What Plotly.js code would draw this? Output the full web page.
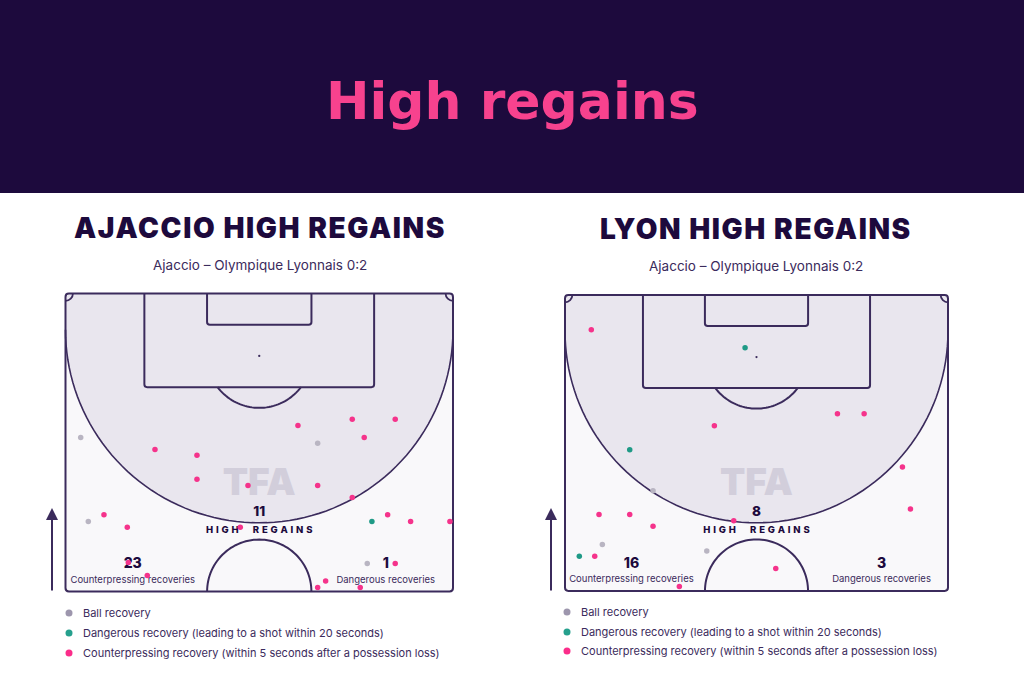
<!DOCTYPE html>
<html>
<head>
<meta charset="utf-8">
<script src="https://cdn.plot.ly/plotly-3.0.1.min.js"></script>
<style>html,body{margin:0;padding:0;background:#fff;}#chart{width:1024px;height:683px;}</style>
</head>
<body>
<div id="chart"></div>
<script>
// ---------------- DATA (pitch coordinates in metres: x across 0-68, y from goal line 0 to halfway 52.5) ----------------
const pageTitle = "High regains";
const panelTitles = ["AJACCIO HIGH REGAINS", "LYON HIGH REGAINS"];
const matchLabel = "Ajaccio \u2013 Olympique Lyonnais 0:2";
const legendLabels = ["Ball recovery", "Dangerous recovery (leading to a shot within 20 seconds)", "Counterpressing recovery (within 5 seconds after a possession loss)"];
const statLabels = ["HIGH REGAINS", "Counterpressing recoveries", "Dangerous recoveries"];

// Ajaccio
const ajaccioHighRegains = 11;
const ajaccioCounterpressing = 23;
const ajaccioDangerous = 1;
const ajaccioBallX = [2.67, 44.25, 4.0, 52.95];
const ajaccioBallY = [25.39, 26.37, 40.18, 47.57];
const ajaccioDangerX = [53.77];
const ajaccioDangerY = [40.18];
const ajaccioPressX = [40.79, 50.32, 57.86, 52.42, 15.70, 23.07, 23.07, 32.02, 44.25, 50.32, 6.75, 10.84, 30.67, 56.53, 60.56, 67.46, 57.86, 11.02, 14.35, 45.65, 44.25, 51.72];
const ajaccioPressY = [23.27, 22.15, 22.15, 25.39, 27.50, 28.49, 32.71, 33.84, 33.84, 35.95, 39.00, 41.16, 41.16, 39.00, 40.18, 40.18, 47.57, 47.39, 49.68, 50.67, 51.80, 51.80];

// Lyon
const lyonHighRegains = 8;
const lyonCounterpressing = 16;
const lyonDangerous = 3;
const lyonBallX = [15.63, 6.63, 25.17];
const lyonBallY = [34.70, 44.27, 45.39];
const lyonDangerX = [31.97, 11.49, 2.54];
const lyonDangerY = [9.34, 27.43, 46.33];
const lyonPressX = [4.67, 26.52, 48.37, 53.11, 59.91, 61.33, 6.04, 11.49, 15.63, 29.96, 5.28, 37.42, 20.30];
const lyonPressY = [6.15, 23.17, 21.05, 21.05, 30.50, 37.94, 38.95, 38.95, 41.01, 40.02, 46.33, 48.53, 51.72];

// ---------------- STYLE / LAYOUT ----------------
const W = 1024, H = 683;
const dark = "#1d0a3d";
const lineC = "#3b2b5c";
const pink = "#f5338b";
const green = "#1f9a86";
const greyDot = "#b9b5c2";
const legGrey = "#9d96ad", legGreen = "#26a08d", legPink = "#fb2d8a";
const fontBody = "Inter, 'Noto Sans', sans-serif";
const fontHead = "Inter, 'DejaVu Sans', sans-serif";

const PL = 68, PH = 52.5, pad = 0.6;
const pitchesPx = [
  {x0: 65.5, x1: 453, y0: 293.5, y1: 591.5},
  {x0: 565, x1: 948, y0: 295, y1: 591}
];
function domX(p){const s=(p.x1-p.x0)/PL;return [(p.x0-pad*s)/W,(p.x1+pad*s)/W];}
function domY(p){const s=(p.y1-p.y0)/PH;return [1-(p.y1+pad*s)/H,1-(p.y0-pad*s)/H];}

function arc(cx, cy, r, a0, a1, n, first){
  let s = "";
  for (let i=0;i<=n;i++){
    const t = a0 + (a1-a0)*i/n;
    const x = cx + r*Math.cos(t), y = cy + r*Math.sin(t);
    s += ((i===0 && first) ? "M " : " L ") + x.toFixed(3) + "," + y.toFixed(3);
  }
  return s;
}

const shapes = [];
const annotations = [];
const traces = [];

// header band
shapes.push({type:"rect", xref:"paper", yref:"paper", x0:0, x1:1, y0:1-193/H, y1:1, fillcolor:dark, line:{width:0}, layer:"below"});

function pitchShapes(xr, yr){
  const cr = 0.6, c = 6.4, R = 34;
  const outer = `M ${cr},0 H ${PL-cr} Q ${PL},0 ${PL},${cr} V ${PH-cr} Q ${PL},${PH} ${PL-cr},${PH} H ${cr} Q 0,${PH} 0,${PH-cr} V ${cr} Q 0,0 ${cr},0 Z`;
  const base = {xref:xr, yref:yr, layer:"below"};
  shapes.push(Object.assign({type:"path", path:outer, fillcolor:"#f9f8fa", line:{width:0}}, base));
  const zone = `M 0,${cr} Q 0,0 ${cr},0 H ${PL-cr} Q ${PL},0 ${PL},${cr} V ${c}` + arc(34, c, R, 0, Math.PI, 80, false) + " Z";
  shapes.push(Object.assign({type:"path", path:zone, fillcolor:"#e9e6ee", line:{width:0}}, base));
  shapes.push(Object.assign({type:"path", path:arc(34, c, R, 0, Math.PI, 80, true), fillcolor:"rgba(0,0,0,0)", line:{color:lineC, width:1.6}}, base));
  const r2 = 0.5;
  shapes.push(Object.assign({type:"path", path:`M 13.84,0 V ${16.5-r2} Q 13.84,16.5 ${13.84+r2},16.5 H ${54.16-r2} Q 54.16,16.5 54.16,${16.5-r2} V 0`, fillcolor:"rgba(0,0,0,0)", line:{color:lineC, width:2}}, base));
  shapes.push(Object.assign({type:"path", path:`M 24.84,0 V ${5.5-r2} Q 24.84,5.5 ${24.84+r2},5.5 H ${43.16-r2} Q 43.16,5.5 43.16,${5.5-r2} V 0`, fillcolor:"rgba(0,0,0,0)", line:{color:lineC, width:2}}, base));
  const a = Math.asin(5.5/9.15);
  shapes.push(Object.assign({type:"path", path:arc(34, 11, 9.15, a, Math.PI-a, 40, true), fillcolor:"rgba(0,0,0,0)", line:{color:lineC, width:2}}, base));
  shapes.push(Object.assign({type:"path", path:arc(34, PH, 9.15, Math.PI, 2*Math.PI, 60, true), fillcolor:"rgba(0,0,0,0)", line:{color:lineC, width:2}}, base));
  const k = 1.3, kk = 1.3*0.552;
  shapes.push(Object.assign({type:"path", path:`M ${k},0 C ${k},${kk} ${kk},${k} 0,${k}`, fillcolor:"rgba(0,0,0,0)", line:{color:lineC, width:1.8}}, base));
  shapes.push(Object.assign({type:"path", path:`M ${PL-k},0 C ${PL-k},${kk} ${PL-kk},${k} ${PL},${k}`, fillcolor:"rgba(0,0,0,0)", line:{color:lineC, width:1.8}}, base));
  shapes.push(Object.assign({type:"circle", x0:33.8, x1:34.2, y0:10.8, y1:11.2, fillcolor:lineC, line:{width:0}}, base));
  shapes.push(Object.assign({type:"path", path:outer, fillcolor:"rgba(0,0,0,0)", line:{color:lineC, width:2}}, base));
}

function pitchTraces(xa, ya, total, cp, dg, bx, by, gx, gy, px, py){
  const common = {xaxis:xa, yaxis:ya, hoverinfo:"skip", showlegend:false, cliponaxis:false};
  traces.push(Object.assign({type:"scatter", mode:"text", x:[34], y:[33.8], text:["TFA"], textfont:{family:fontHead, size:37, color:"#d2cedb", weight:900}}, common));
  traces.push(Object.assign({type:"scatter", mode:"text", x:[34], y:[38.6], text:[String(total)], textfont:{family:fontHead, size:13.5, color:dark, weight:800}}, common));
  traces.push(Object.assign({type:"scatter", mode:"text", x:[34], y:[41.8], text:[statLabels[0].split("").join("\u2009\u2009").replace(/\u2009\u2009 \u2009\u2009/, "\u2003\u2002")], textfont:{family:fontHead, size:9.5, color:dark, weight:800}}, common));
  traces.push(Object.assign({type:"scatter", mode:"text", x:[11.8, 56.2], y:[47.8, 47.8], text:[String(cp), String(dg)], textfont:{family:fontHead, size:14, color:dark, weight:800}}, common));
  traces.push(Object.assign({type:"scatter", mode:"text", x:[11.8, 56.2], y:[50.5, 50.5], text:[statLabels[1], statLabels[2]], textfont:{family:fontBody, size:9.5, color:"#3b2b5c"}}, common));
  traces.push(Object.assign({type:"scatter", mode:"markers", x:bx, y:by, marker:{size:5.5, color:greyDot}}, common));
  traces.push(Object.assign({type:"scatter", mode:"markers", x:gx, y:gy, marker:{size:5.5, color:green}}, common));
  traces.push(Object.assign({type:"scatter", mode:"markers", x:px, y:py, marker:{size:5.5, color:pink}}, common));
}

pitchShapes("x", "y");
pitchShapes("x2", "y2");
pitchTraces("x", "y", ajaccioHighRegains, ajaccioCounterpressing, ajaccioDangerous, ajaccioBallX, ajaccioBallY, ajaccioDangerX, ajaccioDangerY, ajaccioPressX, ajaccioPressY);
pitchTraces("x2", "y2", lyonHighRegains, lyonCounterpressing, lyonDangerous, lyonBallX, lyonBallY, lyonDangerX, lyonDangerY, lyonPressX, lyonPressY);

annotations.push({xref:"paper", yref:"paper", x:0.5, y:1-101/H, text:pageTitle, showarrow:false, xanchor:"center", yanchor:"middle", font:{family:"'DejaVu Sans', sans-serif", size:52, color:"#f7428e", weight:700}});
const headX = [259.5, 756], headY = [228, 229], subY = [265, 266];
for (let i=0;i<2;i++){
  annotations.push({xref:"paper", yref:"paper", x:headX[i]/W, y:1-headY[i]/H, text:'<span style="letter-spacing:1.6px">' + panelTitles[i] + '</span>', showarrow:false, xanchor:"center", yanchor:"middle", font:{family:fontHead, size:28, color:dark, weight:900}});
  annotations.push({xref:"paper", yref:"paper", x:headX[i]/W, y:1-subY[i]/H, text:matchLabel, showarrow:false, xanchor:"center", yanchor:"middle", font:{family:fontBody, size:13.5, color:"#3b2b5c"}});
}
const arrowX = [52, 551];
for (const ax of arrowX){
  annotations.push({xref:"paper", yref:"paper", x:ax/W, y:1-508/H, ax:0, ay:84, text:"", showarrow:true, arrowhead:2, arrowsize:1.2, arrowwidth:2, arrowcolor:lineC, standoff:0});
}
const legX = [[69, 81], [567, 579]];
const legY = [[613, 633, 653], [612, 632, 651]];
const legCols = [legGrey, legGreen, legPink];
for (let p=0;p<2;p++){
  for (let i=0;i<3;i++){
    const yy = 1-legY[p][i]/H;
    shapes.push({type:"circle", xref:"paper", yref:"paper", xsizemode:"pixel", ysizemode:"pixel", xanchor:legX[p][0]/W, yanchor:yy, x0:-3.5, x1:3.5, y0:-3.5, y1:3.5, fillcolor:legCols[i], line:{width:0}});
    annotations.push({xref:"paper", yref:"paper", x:legX[p][1]/W, y:yy, text:legendLabels[i], showarrow:false, xanchor:"left", yanchor:"middle", font:{family:fontBody, size:11, color:"#3b2b5c"}});
  }
}

const axisBase = {visible:false, showgrid:false, zeroline:false, fixedrange:true};
const layout = {
  width:W, height:H, margin:{l:0, r:0, t:0, b:0},
  paper_bgcolor:"#ffffff", plot_bgcolor:"rgba(0,0,0,0)",
  showlegend:false,
  xaxis: Object.assign({domain:domX(pitchesPx[0]), range:[-pad, PL+pad]}, axisBase),
  yaxis: Object.assign({domain:domY(pitchesPx[0]), range:[PH+pad, -pad]}, axisBase),
  xaxis2: Object.assign({domain:domX(pitchesPx[1]), range:[-pad, PL+pad], anchor:"y2"}, axisBase),
  yaxis2: Object.assign({domain:domY(pitchesPx[1]), range:[PH+pad, -pad], anchor:"x2"}, axisBase),
  shapes: shapes,
  annotations: annotations
};
Plotly.newPlot("chart", traces, layout, {displayModeBar:false, staticPlot:true});
</script>
</body>
</html>
